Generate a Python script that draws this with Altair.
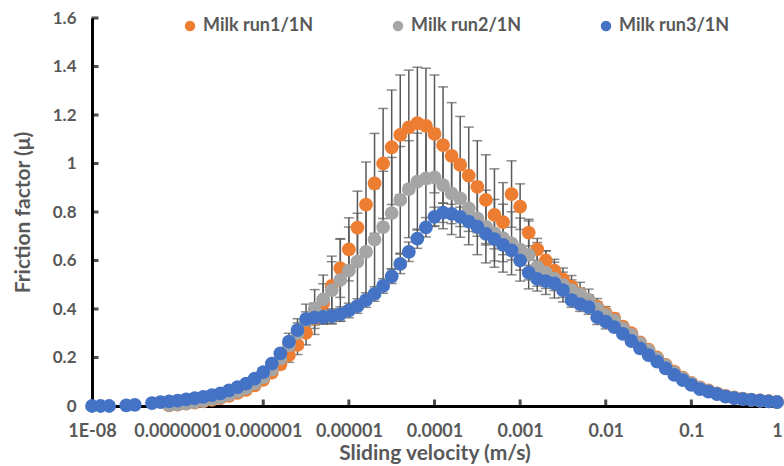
import altair as alt
import pandas as pd

# velocity grid, log10(m/s)
log_v = [-8.0, -7.9, -7.8, -7.7, -7.6, -7.5, -7.4, -7.3, -7.2, -7.1,
         -7.0, -6.9, -6.8, -6.7, -6.6, -6.5, -6.4, -6.3, -6.2, -6.1,
         -6.0, -5.9, -5.8, -5.7, -5.6, -5.5, -5.4, -5.3, -5.2, -5.1,
         -5.0, -4.9, -4.8, -4.7, -4.6, -4.5, -4.4, -4.3, -4.2, -4.1,
         -4.0, -3.9, -3.8, -3.7, -3.6, -3.5, -3.4, -3.3, -3.2, -3.1,
         -3.0, -2.9, -2.8, -2.7, -2.6, -2.5, -2.4, -2.3, -2.2, -2.1,
         -2.0, -1.9, -1.8, -1.7, -1.6, -1.5, -1.4, -1.3, -1.2, -1.1,
         -1.0, -0.9, -0.8, -0.7, -0.6, -0.5, -0.4, -0.3, -0.2, -0.1, 0.0]

N = None
run1 = [N, N, N, N, N, N, N, N, N, 0.003,
        0.006, 0.010, 0.014, 0.019, 0.025, 0.032, 0.042, 0.054, 0.067, 0.085,
        0.108, 0.138, 0.172, 0.210, 0.252, 0.302, 0.360, 0.424, 0.495, 0.568,
        0.646, 0.736, 0.830, 0.918, 1.000, 1.067, 1.118, 1.149, 1.166, 1.155,
        1.122, 1.076, 1.031, 0.994, 0.950, 0.904, 0.850, 0.788, 0.758, 0.874,
        0.822, 0.715, 0.646, 0.600, 0.558, 0.522, 0.492, 0.462, 0.437, 0.410,
        0.382, 0.360, 0.327, 0.300, 0.262, 0.232, 0.200, 0.170, 0.142, 0.117,
        0.095, 0.077, 0.064, 0.052, 0.042, 0.035, 0.030, 0.026, 0.023, 0.020, 0.017]
run2 = [N, N, N, N, N, N, N, N, N, 0.004,
        0.007, 0.011, 0.016, 0.021, 0.028, 0.036, 0.047, 0.060, 0.074, 0.093,
        0.118, 0.150, 0.195, 0.250, 0.300, 0.355, 0.400, 0.440, 0.478, 0.520,
        0.558, 0.595, 0.636, 0.686, 0.738, 0.795, 0.850, 0.894, 0.925, 0.939,
        0.943, 0.911, 0.877, 0.856, 0.815, 0.774, 0.740, 0.712, 0.692, 0.671,
        0.645, 0.623, 0.574, 0.550, 0.525, 0.499, 0.478, 0.460, 0.437, 0.403,
        0.375, 0.352, 0.320, 0.293, 0.258, 0.228, 0.196, 0.166, 0.138, 0.114,
        0.093, 0.075, 0.062, 0.051, 0.041, 0.034, 0.029, 0.025, 0.022, 0.019, 0.017]
run3 = [0.0, 0.0, 0.0, N, 0.003, 0.005, N, 0.012, 0.016, 0.019,
        0.022, 0.027, 0.032, 0.038, 0.045, 0.052, 0.064, 0.078, 0.092, 0.113,
        0.140, 0.175, 0.217, 0.265, 0.313, 0.358, 0.364, 0.367, 0.371, 0.379,
        0.394, 0.412, 0.437, 0.462, 0.495, 0.535, 0.586, 0.636, 0.690, 0.737,
        0.780, 0.797, 0.792, 0.780, 0.760, 0.740, 0.710, 0.688, 0.664, 0.642,
        0.600, 0.550, 0.524, 0.515, 0.506, 0.478, 0.437, 0.420, 0.408, 0.366,
        0.348, 0.325, 0.297, 0.268, 0.238, 0.210, 0.183, 0.155, 0.128, 0.107,
        0.087, 0.070, 0.059, 0.049, 0.039, 0.032, 0.028, 0.025, 0.022, 0.019, 0.016]

err1 = [0] * 20 + [0.010, 0.015, 0.020, 0.030, 0.040, 0.050, 0.065, 0.080, 0.100, 0.120,
                   0.130, 0.150, 0.176, 0.206, 0.227, 0.236, 0.247, 0.236, 0.231, 0.238,
                   0.243, 0.240, 0.220, 0.200, 0.200, 0.190, 0.186, 0.190, 0.163, 0.137,
                   0.094, 0.055, 0.045, 0.040, 0.035, 0.030, 0.028, 0.025, 0.022, 0.020,
                   0.018, 0.015, 0.012, 0.010] + [0] * 17
err2 = [0] * 22 + [0.030, 0.050, 0.060, 0.065, 0.080, 0.100, 0.140, 0.170,
                   0.180, 0.200, 0.200, 0.210, 0.230, 0.230, 0.220, 0.200, 0.200, 0.200,
                   0.200, 0.180, 0.170, 0.160, 0.150, 0.150, 0.150, 0.140, 0.140, 0.130,
                   0.130, 0.140, 0.100, 0.090, 0.080, 0.070, 0.060, 0.050, 0.045, 0.040,
                   0.035, 0.030, 0.025, 0.020, 0.015] + [0] * 16
err3 = [0] * 24 + [0.030] * 12 + [0.040] * 15 + [0.030] * 10 + [0] * 20

series_names = ["Milk run1/1N", "Milk run2/1N", "Milk run3/1N"]
series_colors = ["#ED7D31", "#A5A5A5", "#4472C4"]

y_ticks = [0, 0.2, 0.4, 0.6, 0.8, 1.0, 1.2, 1.4, 1.6]
x_tick_exp = [-8, -7, -6, -5, -4, -3, -2, -1, 0]
x_tick_labels = ["1E-08", "0.0000001", "0.000001", "0.00001", "0.0001",
                 "0.001", "0.01", "0.1", "1"]

rows = []
for name, vals, errs in zip(series_names, [run1, run2, run3], [err1, err2, err3]):
    for e, v, er in zip(log_v, vals, errs):
        if v is None:
            continue
        rows.append({"series": name, "v": 10 ** e, "mu": v,
                     "lo": v - er, "hi": v + er, "has_err": er > 0})
df = pd.DataFrame(rows)
err_df = df[df["has_err"]]

tick_x_df = pd.DataFrame({"v": [10.0 ** e for e in x_tick_exp[1:-1]]})
tick_y_df = pd.DataFrame({"mu": y_ticks[1:]})

label_expr = "''"
for e, lab in zip(x_tick_exp, x_tick_labels):
    label_expr = f"round(log(datum.value)/LN10) == {e} ? '{lab}' : ({label_expr})"

FONT = "Lato"
GREY = "#595959"

xscale = alt.Scale(type="log", domain=[1e-8, 1], nice=False)
yscale = alt.Scale(domain=[0, 1.6], nice=False, zero=False)

x_enc = alt.X("v:Q", scale=xscale, axis=alt.Axis(
    title="Sliding velocity (m/s)", values=[10.0 ** e for e in x_tick_exp],
    labelExpr=label_expr, labelOverlap=False, labelBound=False, labelFlush=False,
    ticks=False, grid=False, domainColor="black", domainWidth=3,
    labelFont=FONT, labelFontSize=18, labelFontWeight="bold", labelColor=GREY,
    labelPadding=16, titleFont=FONT, titleFontSize=21, titleFontWeight="bold",
    titleColor=GREY, titlePadding=2))
y_enc = alt.Y("mu:Q", scale=yscale, axis=alt.Axis(
    title="Friction factor (μ)", values=y_ticks, labelExpr="format(datum.value, '~g')",
    ticks=False, grid=False, domainColor="black", domainWidth=3,
    labelFont=FONT, labelFontSize=17, labelFontWeight="bold", labelColor=GREY,
    labelPadding=16, titleFont=FONT, titleFontSize=21, titleFontWeight="bold",
    titleColor=GREY, titlePadding=19))

xticks = alt.Chart(tick_x_df).mark_tick(orient="vertical", size=7, thickness=3,
                                        color="black", yOffset=-3).encode(
    x=alt.X("v:Q", scale=xscale), y=alt.datum(0, scale=yscale))
yticks = alt.Chart(tick_y_df).mark_tick(orient="horizontal", size=7, thickness=3,
                                        color="black", xOffset=3).encode(
    y=alt.Y("mu:Q", scale=yscale), x=alt.datum(1e-8))

bars = alt.Chart(err_df).mark_rule(color=GREY, strokeWidth=1.5).encode(
    x=alt.X("v:Q", scale=xscale), y=alt.Y("lo:Q", scale=yscale), y2="hi:Q")
cap_lo = alt.Chart(err_df).mark_tick(orient="horizontal", size=10, thickness=1.5,
                                     color=GREY).encode(
    x=alt.X("v:Q", scale=xscale), y=alt.Y("lo:Q", scale=yscale))
cap_hi = alt.Chart(err_df).mark_tick(orient="horizontal", size=10, thickness=1.5,
                                     color=GREY).encode(
    x=alt.X("v:Q", scale=xscale), y=alt.Y("hi:Q", scale=yscale))

points = alt.Chart(df).mark_point(filled=True, opacity=1, size=190, shape="circle").encode(
    x=x_enc, y=y_enc,
    color=alt.Color("series:N", scale=alt.Scale(domain=series_names, range=series_colors),
                    legend=alt.Legend(title=None, orient="none", direction="horizontal",
                                      legendX=89, legendY=-1, symbolSize=110,
                                      symbolType="circle", symbolStrokeWidth=0,
                                      labelFont=FONT, labelFontSize=18,
                                      labelFontWeight="bold", labelColor=GREY,
                                      labelLimit=0, columnPadding=75, labelOffset=4)))

chart = alt.layer(xticks, yticks, bars, cap_lo, cap_hi, points).properties(
    width=685, height=388,
    padding={"left": 92, "top": 18, "right": 7, "bottom": 60},
    autosize=alt.AutoSizeParams(type="none"),
    background="white",
).configure_view(stroke=None)

chart.save("out.html", embed_options={"renderer": "svg", "actions": False})
